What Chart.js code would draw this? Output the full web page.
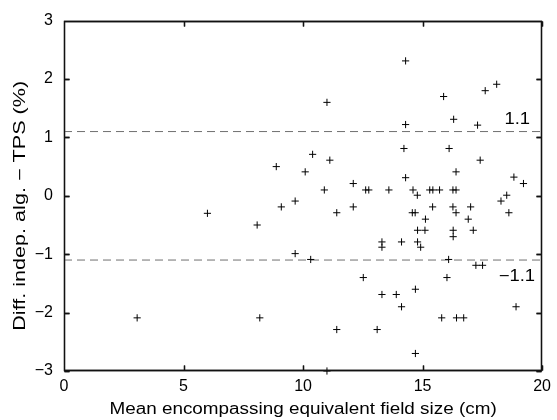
<!DOCTYPE html>
<html>
<head>
<meta charset="utf-8">
<script src="https://cdn.jsdelivr.net/npm/chart.js@4"></script>
<style>
  html, body { margin: 0; padding: 0; background: #fff; }
  #wrap { width: 557px; height: 420px; }
</style>
</head>
<body>
<div id="wrap"><canvas id="chart"></canvas></div>
<script>
// mean encompassing equivalent field size (cm)
const fieldSize = [
  3.06, 6.0, 8.08, 8.19, 8.88, 9.09, 9.67, 9.67, 10.09, 10.32,
  10.40, 10.89, 11.0, 11.0, 11.12, 11.41, 11.41, 12.10, 12.10, 12.52,
  12.62, 12.75, 13.10, 13.30, 13.30, 13.30, 13.59, 13.90, 14.12, 14.12,
  14.22, 14.29, 14.29, 14.29, 14.57, 14.60, 14.69, 14.70, 14.70, 14.78,
  14.79, 14.79, 14.92, 15.10, 15.12, 15.30, 15.43, 15.42, 15.71, 15.80,
  15.88, 16.02, 16.09, 16.11, 16.27, 16.40, 16.27, 16.30, 16.40, 16.40,
  16.28, 16.28, 16.42, 16.72, 16.91, 17.01, 17.12, 17.23, 17.30, 17.41,
  17.51, 17.62, 18.10, 18.28, 18.52, 18.61, 18.82, 18.91, 19.22
];
// difference independent algorithm - TPS (%)
const diffPct = [
  -2.09, -0.30, -0.50, -2.09, 0.50, -0.19, -0.09, -0.99, 0.41, -1.09,
  0.71, 0.10, 1.60, -3.0, 0.61, -0.29, -2.29, 0.21, -0.19, -1.40,
  0.10, 0.10, -2.29, -0.79, -0.88, -1.69, 0.10, -1.69, -0.79, -1.90,
  0.81, 2.31, 1.22, 0.31, -0.29, 0.10, -0.29, -1.60, -2.70, 0.01,
  -0.59, -0.79, -0.88, -0.59, -0.40, 0.10, 0.10, -0.19, 0.10, -2.09,
  1.70, -1.40, -1.09, 0.81, 0.10, 0.10, -0.19, 1.31, 0.41, -0.29,
  -0.59, -0.70, -2.09, -2.09, -0.40, -0.19, -0.59, -1.19, 1.21, 0.61,
  -1.19, 1.80, 1.91, -0.09, 0.01, -0.29, 0.32, -1.90, 0.21
];
// dashed limits and their labels
const limits = [1.1, -1.1];
const limitLabels = ['1.1', '\u22121.1'];
const xRange = [0, 20];
const yRange = [-3, 3];

const FONT = '"Liberation Sans", Arial, Helvetica, sans-serif';

const points = fieldSize.map((x, i) => ({ x: x, y: diffPct[i] }));

const limitSets = limits.map(v => ({
  type: 'line',
  data: [{ x: xRange[0], y: v }, { x: xRange[1], y: v }],
  borderColor: '#707070',
  borderWidth: 1,
  borderDash: [8, 5],
  pointRadius: 0,
  fill: false
}));

// text stretched horizontally (the reference type runs wider than Arial)
function wideText(ctx, text, x, y, sx) {
  ctx.save();
  ctx.translate(x, y);
  ctx.scale(sx, 1);
  ctx.fillText(text, 0, 0);
  ctx.restore();
}

// box and inward ticks on all sides
function drawBox(chart) {
  const ctx = chart.ctx;
  const a = chart.chartArea;
  const xs = chart.scales.x, ys = chart.scales.y;
  ctx.save();
  ctx.setLineDash([]);
  ctx.strokeStyle = '#111';
  ctx.lineWidth = 1.3;
  const L = Math.round(a.left) + 0.5, R = Math.round(a.right) - 0.5;
  const T = Math.round(a.top) + 0.5, B = Math.round(a.bottom) - 0.5;
  ctx.beginPath();
  ctx.rect(L, T, R - L, B - T);
  xs.ticks.forEach(t => {
    const p = Math.round(xs.getPixelForValue(t.value)) + 0.5;
    ctx.moveTo(p, B); ctx.lineTo(p, B - 5);
    ctx.moveTo(p, T); ctx.lineTo(p, T + 5);
  });
  ys.ticks.forEach(t => {
    const p = Math.round(ys.getPixelForValue(t.value)) + 0.5;
    ctx.moveTo(L, p); ctx.lineTo(L + 5, p);
    ctx.moveTo(R, p); ctx.lineTo(R - 5, p);
  });
  ctx.stroke();
  ctx.restore();
}

const decor = {
  id: 'decor',
  beforeDatasetsDraw(chart) {
    drawBox(chart);
  },
  afterDraw(chart) {
    const ctx = chart.ctx;
    const a = chart.chartArea;
    const ys = chart.scales.y;
    drawBox(chart);

    ctx.save();
    ctx.fillStyle = '#000';
    ctx.font = '16px ' + FONT;
    ctx.textBaseline = 'alphabetic';
    ctx.textAlign = 'right';
    wideText(ctx, limitLabels[0], a.right - 12, ys.getPixelForValue(limits[0]) - 8, 1.15);
    wideText(ctx, limitLabels[1], a.right - 7, ys.getPixelForValue(limits[1]) + 21, 1.15);

    ctx.textAlign = 'center';
    wideText(ctx, 'Mean encompassing equivalent field size (cm)', (a.left + a.right) / 2, 414, 1.18);

    ctx.translate(25, (a.top + a.bottom) / 2 + 10);
    ctx.rotate(-Math.PI / 2);
    wideText(ctx, 'Diff. indep. alg. \u2212 TPS (%)', 0, 0, 1.35);
    ctx.restore();
  }
};

new Chart(document.getElementById('chart'), {
  type: 'scatter',
  data: {
    datasets: [
      {
        data: points,
        pointStyle: 'cross',
        pointRadius: 3.6,
        pointHoverRadius: 3.6,
        borderColor: '#000',
        backgroundColor: '#000',
        borderWidth: 1,
        clip: 6
      },
      ...limitSets
    ]
  },
  options: {
    responsive: true,
    maintainAspectRatio: false,
    animation: false,
    layout: { padding: { left: 0, top: 13, right: 11, bottom: 0 } },
    plugins: { legend: { display: false }, tooltip: { enabled: false } },
    scales: {
      x: {
        type: 'linear',
        min: xRange[0],
        max: xRange[1],
        ticks: { stepSize: 5, color: '#000', padding: 6, font: { family: FONT, size: 16 } },
        grid: { display: false, drawTicks: false },
        border: { display: false },
        afterFit(s) { s.height = 49; }
      },
      y: {
        type: 'linear',
        min: yRange[0],
        max: yRange[1],
        ticks: { stepSize: 1, color: '#000', padding: 11, font: { family: FONT, size: 16 },
                 callback: v => String(v).replace('-', '\u2212') },
        grid: { display: false, drawTicks: false },
        border: { display: false },
        afterFit(s) { s.width = 64; }
      }
    }
  },
  plugins: [decor]
});
</script>
</body>
</html>
